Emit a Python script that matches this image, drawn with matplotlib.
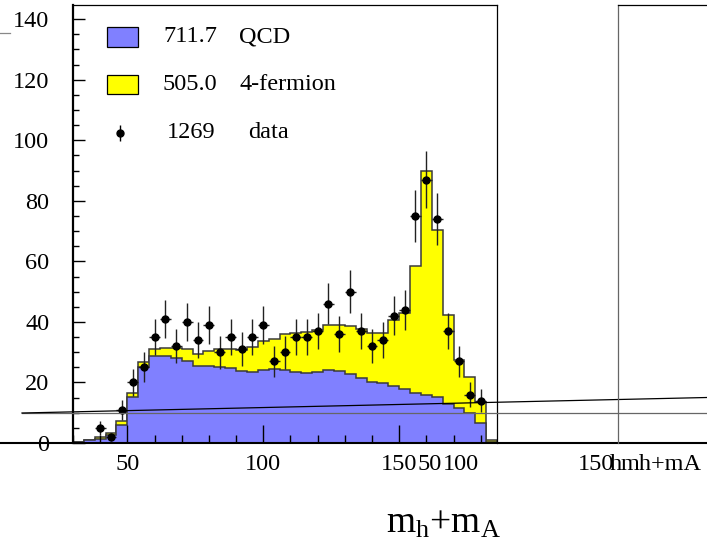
import numpy as np
import matplotlib.pyplot as plt
from matplotlib.ticker import MultipleLocator
from matplotlib.patches import Rectangle

plt.rcParams['font.family'] = ['Liberation Serif', 'DejaVu Serif']
plt.rcParams['mathtext.fontset'] = 'custom'
plt.rcParams['mathtext.rm'] = 'Liberation Serif'
plt.rcParams['mathtext.it'] = 'Liberation Serif:italic'

# mh+mA spectrum, 4 GeV bins from 30 to 186
edges = np.arange(30, 187, 4)
qcd = np.array([0.4, 1.0, 1.4, 2.6, 5.9, 15.1, 25.0, 28.8, 28.9, 28.0,
                27.0, 25.3, 25.3, 25.0, 24.8, 23.7, 23.3, 24.1, 24.6, 24.0,
                23.6, 23.0, 23.6, 24.1, 23.9, 22.8, 21.6, 20.3, 19.7, 18.8,
                17.7, 16.4, 15.9, 15.1, 12.9, 11.5, 9.8, 6.5, 0.3])
fourf = np.array([0.0, 0.0, 0.5, 0.8, 1.4, 1.3, 1.9, 2.3, 2.4, 3.4,
                  4.1, 4.1, 5.2, 6.2, 6.4, 7.0, 8.5, 9.7, 9.8, 12.0,
                  12.6, 13.8, 13.7, 14.9, 15.1, 15.9, 16.0, 16.2, 16.6, 21.8,
                  25.2, 42.1, 73.8, 55.2, 29.4, 15.9, 12.0, 7.1, 0.7])
data = np.array([0, 0, 5, 2, 11, 20, 25, 35, 41, 32,
                 40, 34, 39, 30, 35, 31, 35, 39, 27, 30,
                 35, 35, 37, 46, 36, 50, 37, 32, 34, 42,
                 44, 75, 87, 74, 37, 27, 16, 14, 0])

blue = '#8080ff'
yellow = '#ffff00'

total = qcd + fourf
centers = 0.5 * (edges[:-1] + edges[1:])

fig = plt.figure(figsize=(7.07, 5.54), dpi=100)
ax = fig.add_axes([73/707, 111/554, 424/707, 438/554])

# stacked: total first, qcd on top of it
ax.stairs(total, edges, baseline=0, fill=True, facecolor=yellow,
          edgecolor='#3a3a3a', linewidth=1.1)
ax.stairs(qcd, edges, baseline=0, fill=True, facecolor=blue,
          edgecolor='#3a3a3a', linewidth=1.1)

sel = data > 0
ax.errorbar(centers[sel], data[sel], yerr=np.sqrt(data[sel]), xerr=2,
            fmt='o', ms=5, color='black', ecolor='#222222',
            elinewidth=1, capsize=0, zorder=4)

ax.set_xlim(30, 186)
ax.set_ylim(0, 144.7)
ax.xaxis.set_major_locator(MultipleLocator(50))
ax.xaxis.set_minor_locator(MultipleLocator(10))
ax.yaxis.set_major_locator(MultipleLocator(20))
ax.yaxis.set_minor_locator(MultipleLocator(5))
ax.tick_params(axis='x', which='major', direction='in', length=13, width=1,
               labelsize=17.5, pad=8)
ax.tick_params(axis='x', which='minor', direction='in', length=5.8, width=1)
ax.tick_params(axis='y', which='major', direction='in', length=8.6, width=1,
               labelsize=17.5, pad=17)
ax.tick_params(axis='y', which='minor', direction='in', length=4.3, width=1)
ax.spines['bottom'].set_visible(False)
ax.spines['left'].set_linewidth(1.6)
ax.spines['top'].set_linewidth(0.9)
ax.spines['right'].set_linewidth(0.9)

# overlay in pixel coordinates for the extra frame, lines and legend
ov = fig.add_axes([0, 0, 1, 1], zorder=5)
ov.patch.set_alpha(0)
ov.set_xlim(0, 707)
ov.set_ylim(554, 0)
ov.axis('off')

ov.plot([0, 707], [443, 443], color='black', lw=1.5)
ov.plot([22, 707], [413, 413], color='#666666', lw=0.9)
ov.plot([22, 707], [413, 397.5], color='black', lw=0.9)
ov.plot([618, 618], [5, 443], color='#666666', lw=0.9)
ov.plot([618, 707], [5, 5], color='black', lw=0.9)
ov.plot([0, 10], [33, 33], color='#888888', lw=0.9)

fs = 17.5
ov.text(430, 464.5, '50', fontsize=fs, ha='center', va='center')
ov.text(460.5, 464.5, '100', fontsize=fs, ha='center', va='center')
ov.text(596, 464.5, '150', fontsize=fs, ha='center', va='center')
ov.text(610, 464.5, 'h', fontsize=fs, ha='left', va='center')
ov.text(702, 464.5, 'mh+mA', fontsize=fs, ha='right', va='center')

ov.text(443, 533, r'$\mathrm{m}_{\mathrm{h}}\mathrm{+m}_{\mathrm{A}}$',
        fontsize=27, ha='center', va='baseline')

# legend
ov.add_patch(Rectangle((107, 27), 31, 20, facecolor=blue, edgecolor='black', lw=0.9))
ov.add_patch(Rectangle((107, 75), 31, 19, facecolor=yellow, edgecolor='black', lw=0.9))
ov.errorbar([120], [133], yerr=[8], fmt='o', ms=5, color='black',
            elinewidth=1, capsize=0)
ov.text(163, 37, f'{qcd.sum():.1f}', fontsize=fs, va='center')
ov.text(239, 37, 'QCD', fontsize=fs, va='center')
ov.text(163, 85, f'{fourf.sum():.1f}', fontsize=fs, va='center')
ov.text(239, 85, '4-fermion', fontsize=fs, va='center')
ov.text(167, 132, f'{data.sum()}', fontsize=fs, va='center')
ov.text(248, 132, 'data', fontsize=fs, va='center')

fig.savefig('out.png', dpi=100)
